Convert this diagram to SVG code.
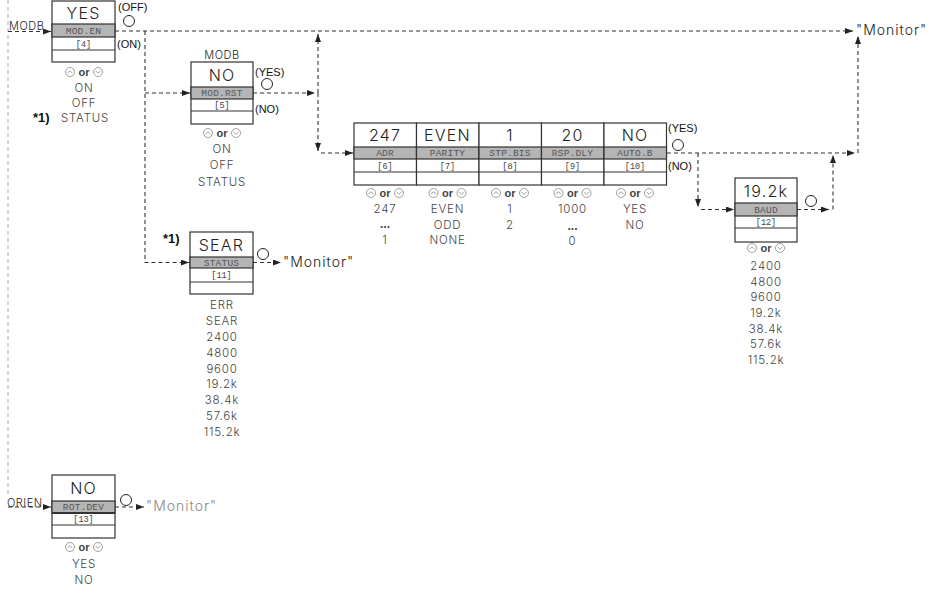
<svg xmlns="http://www.w3.org/2000/svg" width="946" height="595" viewBox="0 0 946 595">
<style>
.bx{fill:#fff;stroke:#333;stroke-width:1.2}
.gr{fill:#b5b5b5;stroke:#333;stroke-width:1.2}
.ln{stroke:#333;stroke-width:1.2}
.val{font-family:Inter,"Liberation Sans",sans-serif;font-weight:300;font-size:16px;fill:#222;text-anchor:middle;letter-spacing:1.2px}
.lab{font-family:"Liberation Mono",monospace;font-size:9.5px;fill:#555;text-anchor:middle;letter-spacing:0.2px}
.num{font-family:"Liberation Mono",monospace;font-size:8.5px;fill:#444;text-anchor:middle}
.lst{font-family:Inter,"Liberation Sans",sans-serif;font-weight:300;font-size:11.5px;fill:#444;text-anchor:middle;letter-spacing:0.8px}
.dots{font-family:"Liberation Sans",sans-serif;font-size:12px;font-weight:bold;fill:#444;text-anchor:middle}
.or{font-family:"Liberation Sans",sans-serif;font-size:11px;font-weight:bold;fill:#444;text-anchor:middle}
.par{font-family:"Liberation Sans",sans-serif;font-size:11px;fill:#111}
.star{font-family:"Liberation Sans",sans-serif;font-size:13px;font-weight:bold;fill:#111}
.in{font-family:Inter,"Liberation Sans",sans-serif;font-weight:300;font-size:11px;fill:#222;letter-spacing:0.5px}
.mon{font-family:Inter,"Liberation Sans",sans-serif;font-weight:300;font-size:14px;fill:#222;letter-spacing:1px}
.mong{font-family:Inter,"Liberation Sans",sans-serif;font-weight:300;font-size:14px;fill:#888;letter-spacing:1px}
.sw{fill:none;stroke:#222;stroke-width:1}
.dash{fill:none;stroke:#333;stroke-width:1.1;stroke-dasharray:4 3}
.dashg{fill:none;stroke:#aaa;stroke-width:1;stroke-dasharray:4 3}
.ic{fill:#fff;stroke:#888;stroke-width:0.8}
.chev{fill:none;stroke:#888;stroke-width:0.8}
</style>
<defs>
<marker id="ah" markerWidth="9" markerHeight="7" refX="8" refY="3" orient="auto" markerUnits="userSpaceOnUse">
<path d="M0,0 L8,3 L0,6 Z" fill="#222"/>
</marker>
<g id="up"><circle cx="0" cy="0" r="4.5" class="ic"/><polyline points="-2.5,1.2 0,-1.3 2.5,1.2" class="chev"/></g>
<g id="dn"><circle cx="0" cy="0" r="4.5" class="ic"/><polyline points="-2.5,-1.2 0,1.3 2.5,-1.2" class="chev"/></g>
</defs>

<g id="connectors">
<path class="dashg" d="M8,0 V497"/>
<path class="dash" d="M8,31.5 H51" marker-end="url(#ah)"/>
<path class="dash" d="M115,31 H853" marker-end="url(#ah)"/>
<path class="dash" d="M145,31 V262.5 H189" marker-end="url(#ah)"/>
<path class="dash" d="M145,93 H190" marker-end="url(#ah)"/>
<path class="dash" d="M253,93 H315" marker-end="url(#ah)"/>
<path class="dash" d="M318,93 V34" marker-end="url(#ah)"/>
<path class="dash" d="M318,93 V151" marker-end="url(#ah)"/>
<path class="dash" d="M321,153 H353" marker-end="url(#ah)"/>
<path class="dash" d="M253,262.5 H281" marker-end="url(#ah)"/>
<path class="dash" d="M667,153 H855" marker-end="url(#ah)"/>
<path class="dash" d="M698,153 V207" marker-end="url(#ah)"/>
<path class="dash" d="M701,209.5 H734" marker-end="url(#ah)"/>
<path class="dash" d="M797,209.5 H829" marker-end="url(#ah)"/>
<path class="dash" d="M833,209.5 V155" marker-end="url(#ah)"/>
<path class="dash" d="M858,153 V36" marker-end="url(#ah)"/>
<path class="dash" d="M8,507 H51" marker-end="url(#ah)"/>
<path class="dash" d="M115,507 H144" marker-end="url(#ah)"/>
<text class="in" x="9" y="30">MODB</text>
<text class="in" x="7" y="507">ORIEN</text>
<text class="mon" x="856" y="35">"Monitor"</text>
<text class="mon" x="283" y="267">"Monitor"</text>
<text class="mong" x="146" y="511">"Monitor"</text>
</g>

<g id="mod-en">
<rect class="bx" x="52" y="1" width="63" height="61"/>
<rect class="gr" x="52" y="24" width="63" height="13"/>
<line class="ln" x1="52" y1="50" x2="115" y2="50"/>
<text class="val" x="83.5" y="18.5">YES</text>
<text class="lab" x="83.5" y="33.8">MOD.EN</text>
<text class="num" x="83.5" y="46.5">[4]</text>
<text class="par" x="118" y="11">(OFF)</text>
<circle class="sw" cx="129" cy="21" r="5.5"/>
<text class="par" x="117" y="48">(ON)</text>
<use href="#up" x="70" y="72"/><text class="or" x="84" y="75.5">or</text><use href="#dn" x="98" y="72"/>
<text class="lst" x="84" y="92">ON</text>
<text class="lst" x="84" y="107">OFF</text>
<text class="lst" x="85" y="122">STATUS</text>
<text class="star" x="33" y="122">*1)</text>
</g>

<g id="mod-rst">
<text class="in" x="222" y="59" text-anchor="middle">MODB</text>
<rect class="bx" x="191" y="62" width="62" height="62"/>
<rect class="gr" x="191" y="87" width="62" height="12"/>
<line class="ln" x1="191" y1="111" x2="253" y2="111"/>
<text class="val" x="222" y="80.5">NO</text>
<text class="lab" x="222" y="96.3">MOD.RST</text>
<text class="num" x="222" y="108">[5]</text>
<text class="par" x="255" y="76">(YES)</text>
<circle class="sw" cx="267" cy="84" r="5.5"/>
<text class="par" x="255" y="113">(NO)</text>
<use href="#up" x="208" y="133"/><text class="or" x="222" y="136.5">or</text><use href="#dn" x="236" y="133"/>
<text class="lst" x="222" y="153">ON</text>
<text class="lst" x="222" y="169">OFF</text>
<text class="lst" x="222" y="186">STATUS</text>
</g>

<g id="adr">
<rect class="bx" x="354" y="123" width="62.5" height="62"/>
<rect class="gr" x="354" y="147" width="62.5" height="12"/>
<line class="ln" x1="354" y1="172" x2="416.5" y2="172"/>
<text class="val" x="385" y="141">247</text>
<text class="lab" x="385" y="156.3">ADR</text>
<text class="num" x="385" y="168.5">[6]</text>
<use href="#up" x="371" y="193"/><text class="or" x="385" y="196.5">or</text><use href="#dn" x="399" y="193"/>
<text class="lst" x="385" y="213">247</text>
<text class="dots" x="385" y="228">...</text>
<text class="lst" x="385" y="244">1</text>
</g>

<g id="parity">
<rect class="bx" x="416.5" y="123" width="62.5" height="62"/>
<rect class="gr" x="416.5" y="147" width="62.5" height="12"/>
<line class="ln" x1="416.5" y1="172" x2="479" y2="172"/>
<text class="val" x="447.5" y="141">EVEN</text>
<text class="lab" x="447.5" y="156.3">PARITY</text>
<text class="num" x="447.5" y="168.5">[7]</text>
<use href="#up" x="433.5" y="193"/><text class="or" x="447.5" y="196.5">or</text><use href="#dn" x="461.5" y="193"/>
<text class="lst" x="447.5" y="213">EVEN</text>
<text class="lst" x="447.5" y="229">ODD</text>
<text class="lst" x="447.5" y="244">NONE</text>
</g>

<g id="stp-bis">
<rect class="bx" x="479" y="123" width="62.5" height="62"/>
<rect class="gr" x="479" y="147" width="62.5" height="12"/>
<line class="ln" x1="479" y1="172" x2="541.5" y2="172"/>
<text class="val" x="510" y="141">1</text>
<text class="lab" x="510" y="156.3">STP.BIS</text>
<text class="num" x="510" y="168.5">[8]</text>
<use href="#up" x="496" y="193"/><text class="or" x="510" y="196.5">or</text><use href="#dn" x="524" y="193"/>
<text class="lst" x="510" y="213">1</text>
<text class="lst" x="510" y="229">2</text>
</g>

<g id="rsp-dly">
<rect class="bx" x="541.5" y="123" width="62.5" height="62"/>
<rect class="gr" x="541.5" y="147" width="62.5" height="12"/>
<line class="ln" x1="541.5" y1="172" x2="604" y2="172"/>
<text class="val" x="572.5" y="141">20</text>
<text class="lab" x="572.5" y="156.3">RSP.DLY</text>
<text class="num" x="572.5" y="168.5">[9]</text>
<use href="#up" x="558.5" y="193"/><text class="or" x="572.5" y="196.5">or</text><use href="#dn" x="586.5" y="193"/>
<text class="lst" x="572.5" y="213">1000</text>
<text class="dots" x="572.5" y="229.5">...</text>
<text class="lst" x="572.5" y="245">0</text>
</g>

<g id="auto-b">
<rect class="bx" x="604" y="123" width="62.5" height="62"/>
<rect class="gr" x="604" y="147" width="62.5" height="12"/>
<line class="ln" x1="604" y1="172" x2="666.5" y2="172"/>
<text class="val" x="635" y="141">NO</text>
<text class="lab" x="635" y="156.3">AUTO.B</text>
<text class="num" x="635" y="168.5">[10]</text>
<text class="par" x="668" y="132">(YES)</text>
<circle class="sw" cx="678" cy="145" r="5.5"/>
<text class="par" x="668" y="170">(NO)</text>
<use href="#up" x="621" y="193"/><text class="or" x="635" y="196.5">or</text><use href="#dn" x="649" y="193"/>
<text class="lst" x="635" y="213">YES</text>
<text class="lst" x="635" y="229">NO</text>
</g>

<g id="baud">
<rect class="bx" x="735" y="178" width="62" height="64"/>
<rect class="gr" x="735" y="203" width="62" height="13"/>
<line class="ln" x1="735" y1="228" x2="797" y2="228"/>
<text class="val" x="766" y="196.5">19.2k</text>
<text class="lab" x="766" y="212.8">BAUD</text>
<text class="num" x="766" y="225">[12]</text>
<circle class="sw" cx="811" cy="201" r="5.5"/>
<use href="#up" x="752" y="248"/><text class="or" x="766" y="251.5">or</text><use href="#dn" x="780" y="248"/>
<text class="lst" x="766" y="270">2400</text>
<text class="lst" x="766" y="286">4800</text>
<text class="lst" x="766" y="301">9600</text>
<text class="lst" x="766" y="317">19.2k</text>
<text class="lst" x="766" y="333">38.4k</text>
<text class="lst" x="766" y="348">57.6k</text>
<text class="lst" x="766" y="364">115.2k</text>
</g>

<g id="status">
<rect class="bx" x="190" y="232" width="63" height="62"/>
<rect class="gr" x="190" y="257" width="63" height="11"/>
<line class="ln" x1="190" y1="282" x2="253" y2="282"/>
<text class="val" x="221.5" y="250.5">SEAR</text>
<text class="lab" x="221.5" y="265.5">STATUS</text>
<text class="num" x="221.5" y="278">[11]</text>
<text class="star" x="163" y="243">*1)</text>
<circle class="sw" cx="263" cy="254" r="5.5"/>
<text class="lst" x="222" y="309">ERR</text>
<text class="lst" x="222" y="325">SEAR</text>
<text class="lst" x="222" y="341">2400</text>
<text class="lst" x="222" y="357">4800</text>
<text class="lst" x="222" y="373">9600</text>
<text class="lst" x="222" y="388">19.2k</text>
<text class="lst" x="222" y="404">38.4k</text>
<text class="lst" x="222" y="420">57.6k</text>
<text class="lst" x="222" y="436">115.2k</text>
</g>

<g id="rot-dev">
<rect class="bx" x="52" y="475" width="63" height="63"/>
<rect class="gr" x="52" y="501" width="63" height="12"/>
<line x1="52" y1="513" x2="115" y2="513" stroke="#333" stroke-width="2"/>
<line class="ln" x1="52" y1="525" x2="115" y2="525"/>
<text class="val" x="83.5" y="494">NO</text>
<text class="lab" x="83.5" y="510.3">ROT.DEV</text>
<text class="num" x="83.5" y="522">[13]</text>
<circle class="sw" cx="126" cy="500" r="5.5"/>
<use href="#up" x="70" y="547"/><text class="or" x="84" y="550.5">or</text><use href="#dn" x="98" y="547"/>
<text class="lst" x="84" y="568">YES</text>
<text class="lst" x="84" y="584">NO</text>
</g>
</svg>
